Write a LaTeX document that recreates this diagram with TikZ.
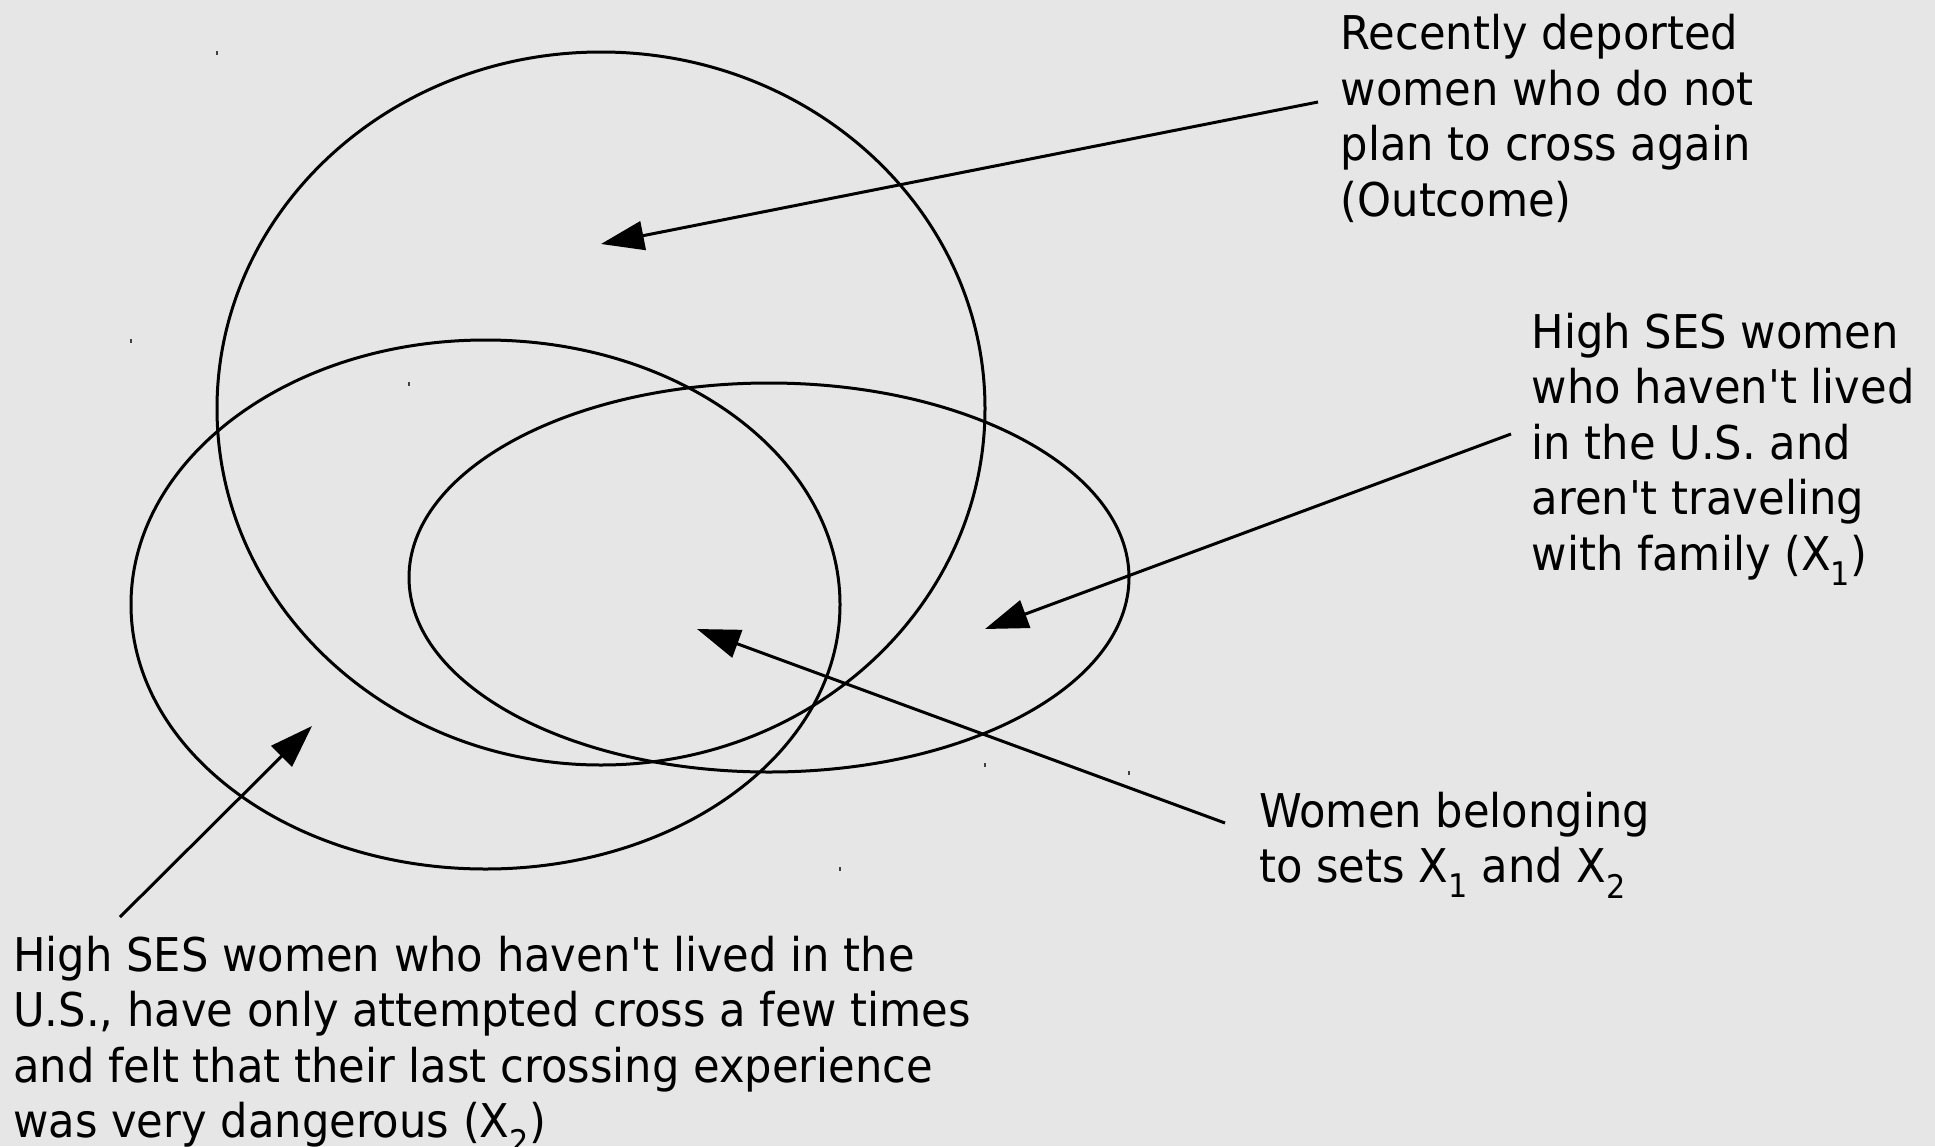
\documentclass[tikz,border=0pt]{standalone}
\usepackage{fontspec}
\newfontfamily\labelfont[FakeStretch=0.93]{DejaVu Sans}
\usetikzlibrary{arrows.meta,shapes.geometric}
\definecolor{bggray}{RGB}{230,230,230}
\begin{document}
\begin{tikzpicture}[x=1pt,y=-1pt]
        \tikzstyle{setoval}=[ellipse,draw=black,line width=3pt,inner sep=0pt]
        \tikzstyle{txt}=[anchor=north west,inner sep=0pt,align=left,font=\labelfont\fontsize{46.5}{55.5}\selectfont]
        \tikzstyle{pointer}=[draw,line width=3pt,-{Triangle[length=43pt,width=29pt]}]
        \tikzstyle{tickmark}=[draw=black!75,line width=1.2pt]
        \fill[bggray] (0,0) rectangle (1935,1146);
        \useasboundingbox (0,0) rectangle (1935,1146);
        \begin{scope}
           \node [setoval,minimum width=768pt,minimum height=713pt] (outcome) at (601,408.5) {};
           \node [setoval,minimum width=709pt,minimum height=529pt] (xtwo) at (485.5,604.5) {};
           \node [setoval,minimum width=720pt,minimum height=389pt] (xone) at (769,577.5) {};
           \foreach \x/\y in {217/51,131/339,409/382,985/763,1129/771,840/867}
              \draw[tickmark] (\x,\y) -- ++(0,4);
           \node [txt] (outtxt) at (1340.5,10.5) {\strut Recently deported\\women who do not\\plan to cross again\\(Outcome)};
           \node [txt] (xonetxt) at (1531.5,309.2) {\strut High SES women\\who haven't lived\\in the U.S. and\\aren't traveling\\with family (X\textsubscript{1})};
           \node [txt] (bothtxt) at (1259,788.2) {\strut Women belonging\\to sets X\textsubscript{1} and X\textsubscript{2}};
           \node [txt] (xtwotxt) at (13,932.2) {\strut High SES women who haven't lived in the\\U.S., have only attempted cross a few times\\and felt that their last crossing experience\\was very dangerous (X\textsubscript{2})};
           \coordinate (outfrom) at (1318,102);
           \coordinate (outto) at (601,244);
           \coordinate (xonefrom) at (1511,434);
           \coordinate (xoneto) at (985,629);
           \coordinate (bothfrom) at (1225,823);
           \coordinate (bothto) at (697,629);
           \coordinate (xtwofrom) at (120,917);
           \coordinate (xtwoto) at (312,726);
           \path (outfrom) edge[pointer] (outto);
           \path (xonefrom) edge[pointer] (xoneto);
           \path (bothfrom) edge[pointer] (bothto);
           \path (xtwofrom) edge[pointer] (xtwoto);
        \end{scope}
\end{tikzpicture}
\end{document}
